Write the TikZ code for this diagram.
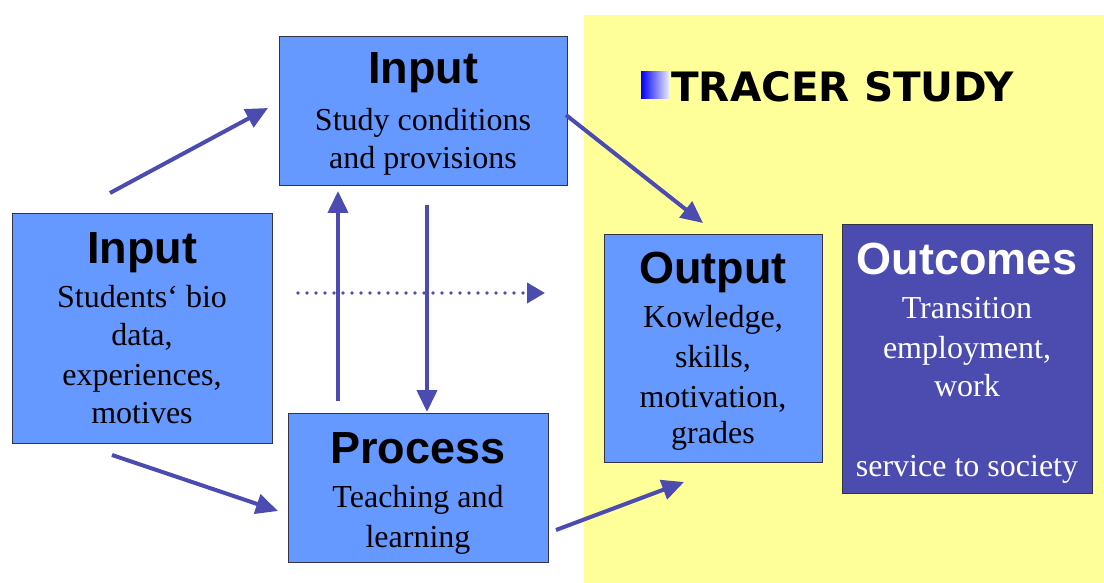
\documentclass[tikz,border=0pt]{standalone}
\usepackage{fontspec}
\setmainfont{Liberation Serif}
\newfontfamily\hdfont{Liberation Sans}
\newfontfamily\ttfontx{DejaVu Sans}
\usetikzlibrary{arrows.meta}
\definecolor{boxblue}{HTML}{6699FF}
\definecolor{darkblue}{HTML}{4B4BB0}
\definecolor{arrowc}{HTML}{4B4BB0}
\definecolor{boxline}{HTML}{333344}
\definecolor{tyellow}{HTML}{FFFF99}
\tikzset{
  box/.style={draw=boxline, line width=0.9pt, fill=boxblue, anchor=north west, inner sep=0pt},
  ttl/.style={font=\hdfont\bfseries\fontsize{45}{50}\selectfont, anchor=base, inner sep=0pt},
  txt/.style={font=\fontsize{32}{38}\selectfont, anchor=base, inner sep=0pt},
  arr/.style={draw=arrowc, line width=4pt, -{Triangle[length=22pt,width=20pt]}},
  dotarr/.style={draw=arrowc, line width=3.8pt, dash pattern=on 0pt off 9pt, line cap=round, -{Triangle[length=18pt,width=20pt]}},
}
\begin{document}
\begin{tikzpicture}[x=1pt,y=-1pt]
\useasboundingbox (0,0) rectangle (1104,583);
% yellow tracer study area
\fill[tyellow] (584,15) rectangle (1104,583);
% title
\shade[left color=blue, right color=blue!8] (641,72) rectangle (669,99);
\node[font=\ttfontx\bfseries\fontsize{40.5}{48}\selectfont, anchor=base west, inner sep=0pt] (title) at (671,102) {TRACER STUDY};

% boxes
\node[box, minimum width=288pt, minimum height=149pt] (intop) at (279,36) {};
\node[box, minimum width=260pt, minimum height=230pt] (inleft) at (12,213) {};
\node[box, minimum width=260pt, minimum height=149pt] (proc) at (288,413) {};
\node[box, minimum width=218pt, minimum height=228pt] (outp) at (604,234) {};
\node[box, fill=darkblue, minimum width=250pt, minimum height=269pt] (outc) at (842,224) {};

% texts: top input
\node[ttl] (t1) at (423,84) {Input};
\node[txt] (t1a) at (423,131) {Study conditions};
\node[txt] (t1b) at (423,169) {and provisions};
% left input
\node[ttl] (t2) at (142,263) {Input};
\node[txt] (t2a) at (142,307) {Students‘ bio};
\node[txt] (t2b) at (142,345) {data,};
\node[txt] (t2c) at (142,385) {experiences,};
\node[txt] (t2d) at (142,423) {motives};
% process
\node[ttl] (t3) at (418,463) {Process};
\node[txt] (t3a) at (418,507) {Teaching and};
\node[txt] (t3b) at (418,547) {learning};
% output
\node[ttl] (t4) at (713,283) {Output};
\node[txt] (t4a) at (713,327) {Kowledge,};
\node[txt] (t4b) at (713,367) {skills,};
\node[txt] (t4c) at (713,407) {motivation,};
\node[txt] (t4d) at (713,443) {grades};
% outcomes
\node[ttl, text=white] (t5) at (967,274) {Outcomes};
\node[txt, text=white] (t5a) at (967,318) {Transition};
\node[txt, text=white] (t5b) at (967,358) {employment,};
\node[txt, text=white] (t5c) at (967,396) {work};
\node[txt, text=white] (t5d) at (967,476) {service to society};

% connectors
\coordinate (a1s) at (110,193); \coordinate (a1e) at (268,108);
\coordinate (a2s) at (112,455); \coordinate (a2e) at (278,511);
\coordinate (a3s) at (338,401); \coordinate (a3e) at (338,191);
\coordinate (a4s) at (427,205); \coordinate (a4e) at (427,412);
\coordinate (a5s) at (298,293); \coordinate (a5e) at (545,293);
\coordinate (a6s) at (566,115); \coordinate (a6e) at (703,223);
\coordinate (a7s) at (556,530); \coordinate (a7e) at (684,482);
\draw[arr] (a1s) -- (a1e);
\draw[arr] (a2s) -- (a2e);
\draw[arr] (a3s) -- (a3e);
\draw[arr] (a4s) -- (a4e);
\draw[dotarr] (a5s) -- (a5e);
\draw[arr] (a6s) -- (a6e);
\draw[arr] (a7s) -- (a7e);
\end{tikzpicture}
\end{document}
